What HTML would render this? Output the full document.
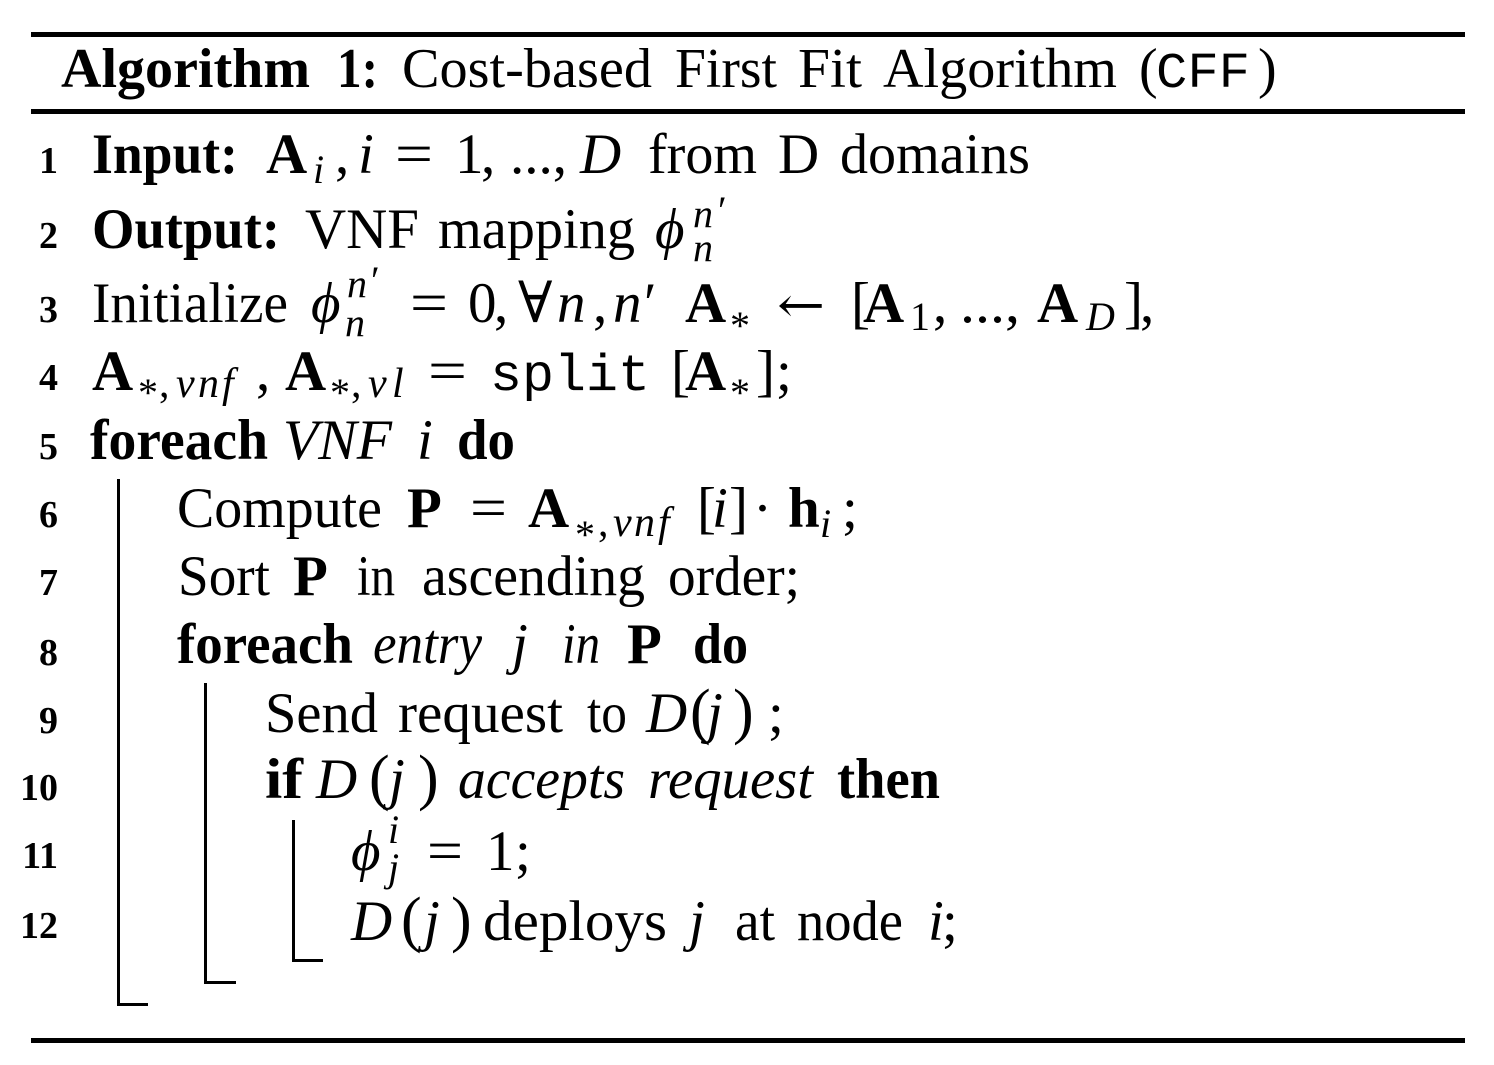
<!DOCTYPE html>
<html>
<head>
<meta charset="utf-8">
<style>
  html,body{margin:0;padding:0;background:#fff;}
  svg{display:block;}
  text{font-family:"Liberation Serif","DejaVu Serif",serif;font-size:57px;fill:#000;}
  .b{font-weight:bold;}
  .i{font-style:italic;}
  .m{font-family:"Liberation Mono","DejaVu Sans Mono",monospace;}
  .s{font-size:40px;}
  .ss{font-size:42px;}
  .n{font-weight:bold;font-size:38px;text-anchor:end;}
  .t{font-size:56px;}
  .ar{font-family:"DejaVu Serif","DejaVu Sans",serif;}
</style>
</head>
<body>
<svg width="1494" height="1065" viewBox="0 0 1494 1065" xmlns="http://www.w3.org/2000/svg">
  <rect x="0" y="0" width="1494" height="1065" fill="#fff"/>
  <!-- rules -->
  <rect x="31" y="32" width="1434" height="5" fill="#000"/>
  <rect x="31" y="109" width="1434" height="5" fill="#000"/>
  <rect x="31" y="1038" width="1434" height="5" fill="#000"/>
  <!-- block bars -->
  <rect x="117" y="479" width="3" height="527" fill="#000"/>
  <rect x="117" y="1003" width="31" height="3" fill="#000"/>
  <rect x="204" y="683" width="3" height="301" fill="#000"/>
  <rect x="204" y="981" width="32" height="3" fill="#000"/>
  <rect x="292" y="820" width="3" height="142" fill="#000"/>
  <rect x="292" y="959" width="31" height="3" fill="#000"/>

  <!-- Title -->
  <text class="t b" x="61" y="87" textLength="249" lengthAdjust="spacingAndGlyphs">Algorithm</text>
  <text class="t b" x="337" y="87" textLength="41" lengthAdjust="spacingAndGlyphs">1:</text>
  <text class="t" x="402" y="87" textLength="250" lengthAdjust="spacingAndGlyphs">Cost-based</text>
  <text class="t" x="675" y="87" textLength="102" lengthAdjust="spacingAndGlyphs">First</text>
  <text class="t" x="798" y="87" textLength="64" lengthAdjust="spacingAndGlyphs">Fit</text>
  <text class="t" x="883" y="87" textLength="234" lengthAdjust="spacingAndGlyphs">Algorithm</text>
  <text class="t" x="1139" y="87">(</text>
  <text class="t m" x="1156" y="87" textLength="94" lengthAdjust="spacingAndGlyphs" style="font-size:50px">CFF</text>
  <text class="t" x="1258" y="87">)</text>

  <!-- line numbers -->
  <text class="n" x="58" y="173">1</text>
  <text class="n" x="58" y="248">2</text>
  <text class="n" x="58" y="322">3</text>
  <text class="n" x="58" y="390">4</text>
  <text class="n" x="58" y="459">5</text>
  <text class="n" x="58" y="527">6</text>
  <text class="n" x="58" y="595">7</text>
  <text class="n" x="58" y="665">8</text>
  <text class="n" x="58" y="733">9</text>
  <text class="n" x="58" y="800">10</text>
  <text class="n" x="58" y="868">11</text>
  <text class="n" x="58" y="938">12</text>

  <!-- Line 1 -->
  <text class="b" x="92" y="173" textLength="146" lengthAdjust="spacingAndGlyphs">Input:</text>
  <text class="b" x="266" y="173">A</text>
  <text class="i s" x="313" y="183">i</text>
  <text x="335" y="173">,</text>
  <text class="i" x="358" y="173">i</text>
  <text x="395" y="173" textLength="38" lengthAdjust="spacingAndGlyphs">=</text>
  <text x="455" y="173">1</text>
  <text x="481" y="173">,</text>
  <text x="510" y="173" textLength="57" lengthAdjust="spacingAndGlyphs">...,</text>
  <text class="i" x="580" y="173">D</text>
  <text x="648" y="173" textLength="109" lengthAdjust="spacingAndGlyphs">from</text>
  <text x="778" y="173">D</text>
  <text x="840" y="173" textLength="190" lengthAdjust="spacingAndGlyphs">domains</text>

  <!-- Line 2 -->
  <text class="b" x="92" y="248" textLength="188" lengthAdjust="spacingAndGlyphs">Output:</text>
  <text x="305" y="248" textLength="114" lengthAdjust="spacingAndGlyphs">VNF</text>
  <text x="438" y="248" textLength="197" lengthAdjust="spacingAndGlyphs">mapping</text>
  <text class="i" x="655" y="248">ϕ</text>
  <text class="i s" x="693" y="227">n</text>
  <text class="s" x="718" y="224">′</text>
  <text class="i s" x="693" y="261">n</text>

  <!-- Line 3 -->
  <text x="92" y="322" textLength="196" lengthAdjust="spacingAndGlyphs">Initialize</text>
  <text class="i" x="311" y="322">ϕ</text>
  <text class="i s" x="347" y="297">n</text>
  <text class="s" x="371" y="294">′</text>
  <text class="i s" x="345" y="336">n</text>
  <text x="410" y="322" textLength="38" lengthAdjust="spacingAndGlyphs">=</text>
  <text x="468" y="322">0</text>
  <text x="494" y="322">,</text>
  <text x="518" y="322">∀</text>
  <text class="i" x="557" y="322">n</text>
  <text x="593" y="322">,</text>
  <text class="i" x="613" y="322">n</text>
  <text x="644" y="322">′</text>
  <text class="b" x="685" y="322">A</text>
  <text class="s" x="730" y="339">*</text>
  <text class="ar" x="777" y="322" textLength="48" lengthAdjust="spacingAndGlyphs" style="font-size:50px">←</text>
  <text x="851" y="322">[</text>
  <text class="b" x="863" y="322">A</text>
  <text class="s" x="910" y="330">1</text>
  <text x="933" y="322">,</text>
  <text x="960" y="322" textLength="60" lengthAdjust="spacingAndGlyphs">...,</text>
  <text class="b" x="1037" y="322">A</text>
  <text class="i s" x="1086" y="330">D</text>
  <text x="1124" y="322">]</text>
  <text x="1140" y="322">,</text>

  <!-- Line 4 -->
  <text class="b" x="92" y="390">A</text>
  <text class="s" x="138" y="406">*</text>
  <text class="ss" x="159" y="397">,</text>
  <text class="i ss" x="176" y="397">v</text>
  <text class="i ss" x="198" y="397">n</text>
  <text class="i ss" x="222" y="397">f</text>
  <text x="256" y="390">,</text>
  <text class="b" x="285" y="390">A</text>
  <text class="s" x="330" y="406">*</text>
  <text class="ss" x="351" y="397">,</text>
  <text class="i ss" x="368" y="397">v</text>
  <text class="i ss" x="392" y="397">l</text>
  <text x="428" y="390" textLength="39" lengthAdjust="spacingAndGlyphs">=</text>
  <text class="m" x="490" y="390" textLength="160" lengthAdjust="spacingAndGlyphs" style="font-size:52px">split</text>
  <text x="671" y="390">[</text>
  <text class="b" x="685" y="390">A</text>
  <text class="s" x="730" y="406">*</text>
  <text x="756" y="390">]</text>
  <text x="776" y="390">;</text>

  <!-- Line 5 -->
  <text class="b" x="90" y="459" textLength="178" lengthAdjust="spacingAndGlyphs">foreach</text>
  <text class="i" x="283" y="459" textLength="109" lengthAdjust="spacingAndGlyphs">VNF</text>
  <text class="i" x="417" y="459">i</text>
  <text class="b" x="457" y="459" textLength="58" lengthAdjust="spacingAndGlyphs">do</text>

  <!-- Line 6 -->
  <text x="177" y="527" textLength="205" lengthAdjust="spacingAndGlyphs">Compute</text>
  <text class="b" x="407" y="527">P</text>
  <text x="470" y="527" textLength="37" lengthAdjust="spacingAndGlyphs">=</text>
  <text class="b" x="528" y="527">A</text>
  <text class="s" x="575" y="548">*</text>
  <text class="ss" x="598" y="536">,</text>
  <text class="i ss" x="613" y="536">v</text>
  <text class="i ss" x="634" y="536">n</text>
  <text class="i ss" x="658" y="536">f</text>
  <text x="697" y="527">[</text>
  <text class="i" x="712" y="527">i</text>
  <text x="729" y="527">]</text>
  <text x="753" y="527">·</text>
  <text class="b" x="788" y="527">h</text>
  <text class="i s" x="820" y="537">i</text>
  <text x="842" y="527">;</text>

  <!-- Line 7 -->
  <text x="178" y="595" textLength="92" lengthAdjust="spacingAndGlyphs">Sort</text>
  <text class="b" x="293" y="595">P</text>
  <text x="357" y="595" textLength="38" lengthAdjust="spacingAndGlyphs">in</text>
  <text x="422" y="595" textLength="223" lengthAdjust="spacingAndGlyphs">ascending</text>
  <text x="668" y="595" textLength="132" lengthAdjust="spacingAndGlyphs">order;</text>

  <!-- Line 8 -->
  <text class="b" x="177" y="663" textLength="176" lengthAdjust="spacingAndGlyphs">foreach</text>
  <text class="i" x="373" y="663" textLength="109" lengthAdjust="spacingAndGlyphs">entry</text>
  <text class="i" x="512" y="663">j</text>
  <text class="i" x="562" y="663" textLength="38" lengthAdjust="spacingAndGlyphs">in</text>
  <text class="b" x="627" y="663">P</text>
  <text class="b" x="693" y="663" textLength="55" lengthAdjust="spacingAndGlyphs">do</text>

  <!-- Line 9 -->
  <text x="265" y="732" textLength="113" lengthAdjust="spacingAndGlyphs">Send</text>
  <text x="398" y="732" textLength="165" lengthAdjust="spacingAndGlyphs">request</text>
  <text x="587" y="732" textLength="40" lengthAdjust="spacingAndGlyphs">to</text>
  <text class="i" x="646" y="732">D</text>
  <text x="690" y="732" style="font-size:62px">(</text>
  <text class="i" x="707" y="732">j</text>
  <text x="733" y="732" style="font-size:62px">)</text>
  <text x="768" y="732">;</text>

  <!-- Line 10 -->
  <text class="b" x="265" y="798" textLength="38" lengthAdjust="spacingAndGlyphs">if</text>
  <text class="i" x="316" y="798">D</text>
  <text x="369" y="798" style="font-size:62px">(</text>
  <text class="i" x="389" y="798">j</text>
  <text x="418" y="798" style="font-size:62px">)</text>
  <text class="i" x="458" y="798" textLength="167" lengthAdjust="spacingAndGlyphs">accepts</text>
  <text class="i" x="648" y="798" textLength="165" lengthAdjust="spacingAndGlyphs">request</text>
  <text class="b" x="837" y="798" textLength="103" lengthAdjust="spacingAndGlyphs">then</text>

  <!-- Line 11 -->
  <text class="i" x="351" y="870">ϕ</text>
  <text class="i s" x="388" y="843">i</text>
  <text class="i s" x="388" y="881">j</text>
  <text x="427" y="870" textLength="36" lengthAdjust="spacingAndGlyphs">=</text>
  <text x="486" y="870">1</text>
  <text x="515" y="870">;</text>

  <!-- Line 12 -->
  <text class="i" x="351" y="940">D</text>
  <text x="401" y="940" style="font-size:62px">(</text>
  <text class="i" x="424" y="940">j</text>
  <text x="451" y="940" style="font-size:62px">)</text>
  <text x="483" y="940" textLength="184" lengthAdjust="spacingAndGlyphs">deploys</text>
  <text class="i" x="689" y="940">j</text>
  <text x="735" y="940" textLength="40" lengthAdjust="spacingAndGlyphs">at</text>
  <text x="797" y="940" textLength="106" lengthAdjust="spacingAndGlyphs">node</text>
  <text class="i" x="928" y="940">i</text>
  <text x="942" y="940">;</text>
</svg>
</body>
</html>
